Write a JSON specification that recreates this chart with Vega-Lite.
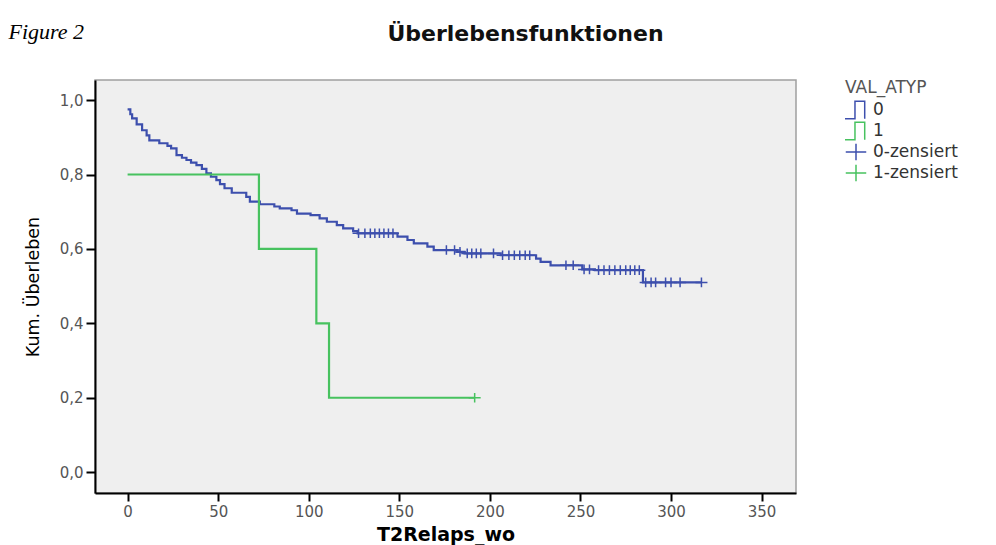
{
  "$schema": "https://vega.github.io/schema/vega-lite/v6.json",
  "autosize": "none",
  "width": 701,
  "height": 413,
  "padding": {"left": 95, "top": 80, "right": 200, "bottom": 52},
  "background": "white",
  "config": {
    "font": "DejaVu Sans",
    "view": {"fill": "#efefef", "stroke": "#a0a0a0", "strokeWidth": 1.5}
  },
  "datasets": {
    "curve": [
      {"lg": "0", "t": 0, "s": 0.975},
      {"lg": "0", "t": 1.5, "s": 0.962},
      {"lg": "0", "t": 2.5, "s": 0.951},
      {"lg": "0", "t": 5, "s": 0.935},
      {"lg": "0", "t": 8, "s": 0.919},
      {"lg": "0", "t": 10.5, "s": 0.905},
      {"lg": "0", "t": 12, "s": 0.892},
      {"lg": "0", "t": 17.5, "s": 0.884},
      {"lg": "0", "t": 22, "s": 0.877},
      {"lg": "0", "t": 24, "s": 0.87},
      {"lg": "0", "t": 27, "s": 0.852},
      {"lg": "0", "t": 30, "s": 0.845},
      {"lg": "0", "t": 32.5, "s": 0.839},
      {"lg": "0", "t": 35, "s": 0.832},
      {"lg": "0", "t": 38, "s": 0.825},
      {"lg": "0", "t": 41, "s": 0.815},
      {"lg": "0", "t": 43.5, "s": 0.803},
      {"lg": "0", "t": 46, "s": 0.794},
      {"lg": "0", "t": 49, "s": 0.785},
      {"lg": "0", "t": 51, "s": 0.774},
      {"lg": "0", "t": 53.5, "s": 0.763},
      {"lg": "0", "t": 57.5, "s": 0.751},
      {"lg": "0", "t": 65.5, "s": 0.74},
      {"lg": "0", "t": 67.5, "s": 0.727},
      {"lg": "0", "t": 73, "s": 0.72},
      {"lg": "0", "t": 81, "s": 0.714},
      {"lg": "0", "t": 84, "s": 0.709},
      {"lg": "0", "t": 90.5, "s": 0.704},
      {"lg": "0", "t": 93.5, "s": 0.695},
      {"lg": "0", "t": 101, "s": 0.691},
      {"lg": "0", "t": 106, "s": 0.682},
      {"lg": "0", "t": 110, "s": 0.673},
      {"lg": "0", "t": 115.5, "s": 0.664},
      {"lg": "0", "t": 119, "s": 0.655},
      {"lg": "0", "t": 124.5, "s": 0.648},
      {"lg": "0", "t": 127, "s": 0.642},
      {"lg": "0", "t": 149, "s": 0.633},
      {"lg": "0", "t": 154.5, "s": 0.624},
      {"lg": "0", "t": 158, "s": 0.615},
      {"lg": "0", "t": 165.5, "s": 0.606},
      {"lg": "0", "t": 169, "s": 0.597},
      {"lg": "0", "t": 182, "s": 0.592},
      {"lg": "0", "t": 186, "s": 0.588},
      {"lg": "0", "t": 206, "s": 0.583},
      {"lg": "0", "t": 225.5, "s": 0.574},
      {"lg": "0", "t": 228, "s": 0.565},
      {"lg": "0", "t": 233.5, "s": 0.556},
      {"lg": "0", "t": 251, "s": 0.545},
      {"lg": "0", "t": 258, "s": 0.543},
      {"lg": "0", "t": 284.5, "s": 0.51},
      {"lg": "0", "t": 316.8, "s": 0.51},
      {"lg": "1", "t": 0, "s": 0.8},
      {"lg": "1", "t": 72.5, "s": 0.6},
      {"lg": "1", "t": 104.2, "s": 0.4},
      {"lg": "1", "t": 111.2, "s": 0.2},
      {"lg": "1", "t": 191.6, "s": 0.2}
    ],
    "cens": [
      {"lg": "0-zensiert", "t": 127.5, "s": 0.642},
      {"lg": "0-zensiert", "t": 131, "s": 0.642},
      {"lg": "0-zensiert", "t": 134, "s": 0.642},
      {"lg": "0-zensiert", "t": 136.5, "s": 0.642},
      {"lg": "0-zensiert", "t": 139, "s": 0.642},
      {"lg": "0-zensiert", "t": 141.5, "s": 0.642},
      {"lg": "0-zensiert", "t": 144, "s": 0.642},
      {"lg": "0-zensiert", "t": 146.5, "s": 0.642},
      {"lg": "0-zensiert", "t": 176, "s": 0.597},
      {"lg": "0-zensiert", "t": 180.5, "s": 0.597},
      {"lg": "0-zensiert", "t": 183.5, "s": 0.592},
      {"lg": "0-zensiert", "t": 187.5, "s": 0.588},
      {"lg": "0-zensiert", "t": 190, "s": 0.588},
      {"lg": "0-zensiert", "t": 192.5, "s": 0.588},
      {"lg": "0-zensiert", "t": 195, "s": 0.588},
      {"lg": "0-zensiert", "t": 202, "s": 0.588},
      {"lg": "0-zensiert", "t": 207, "s": 0.583},
      {"lg": "0-zensiert", "t": 210.5, "s": 0.583},
      {"lg": "0-zensiert", "t": 213.5, "s": 0.583},
      {"lg": "0-zensiert", "t": 216.5, "s": 0.583},
      {"lg": "0-zensiert", "t": 219.5, "s": 0.583},
      {"lg": "0-zensiert", "t": 222, "s": 0.583},
      {"lg": "0-zensiert", "t": 242, "s": 0.556},
      {"lg": "0-zensiert", "t": 246, "s": 0.556},
      {"lg": "0-zensiert", "t": 252, "s": 0.545},
      {"lg": "0-zensiert", "t": 255, "s": 0.545},
      {"lg": "0-zensiert", "t": 260, "s": 0.543},
      {"lg": "0-zensiert", "t": 263, "s": 0.543},
      {"lg": "0-zensiert", "t": 266, "s": 0.543},
      {"lg": "0-zensiert", "t": 269, "s": 0.543},
      {"lg": "0-zensiert", "t": 272, "s": 0.543},
      {"lg": "0-zensiert", "t": 275, "s": 0.543},
      {"lg": "0-zensiert", "t": 277.5, "s": 0.543},
      {"lg": "0-zensiert", "t": 280, "s": 0.543},
      {"lg": "0-zensiert", "t": 282.5, "s": 0.543},
      {"lg": "0-zensiert", "t": 286, "s": 0.51},
      {"lg": "0-zensiert", "t": 289, "s": 0.51},
      {"lg": "0-zensiert", "t": 291.5, "s": 0.51},
      {"lg": "0-zensiert", "t": 297, "s": 0.51},
      {"lg": "0-zensiert", "t": 300, "s": 0.51},
      {"lg": "0-zensiert", "t": 305, "s": 0.51},
      {"lg": "0-zensiert", "t": 316.8, "s": 0.51},
      {"lg": "1-zensiert", "t": 191.6, "s": 0.2}
    ]
  },
  "layer": [
    {
      "data": {"name": "curve"},
      "mark": {"type": "line", "interpolate": "step-after", "strokeWidth": 2.2},
      "encoding": {
        "x": {
          "field": "t", "type": "quantitative",
          "scale": {"domain": [-18, 369], "nice": false, "zero": false},
          "axis": {
            "orient": "bottom", "values": [0, 50, 100, 150, 200, 250, 300, 350],
            "title": "T2Relaps_wo", "titleFontWeight": "bold", "titleFontSize": 19, "titleColor": "#000",
            "titlePadding": 6, "labelFontSize": 15, "labelColor": "#555", "labelPadding": 3,
            "tickSize": 8, "tickWidth": 2, "tickColor": "#000", "domainColor": "#000", "domainWidth": 2,
            "grid": false, "labelFlush": false, "labelOverlap": false
          }
        },
        "y": {
          "field": "s", "type": "quantitative",
          "scale": {"domain": [-0.056, 1.054], "nice": false, "zero": false},
          "axis": {
            "orient": "left", "values": [0, 0.2, 0.4, 0.6, 0.8, 1],
            "labelExpr": "replace(format(datum.value, '.1f'), '.', ',')",
            "title": "Kum. Überleben", "titleFontWeight": "normal", "titleFontSize": 17.5, "titleColor": "#000",
            "titlePadding": 17, "labelFontSize": 15, "labelColor": "#555", "labelPadding": 3,
            "tickSize": 9, "tickWidth": 2, "tickColor": "#000", "domainColor": "#000", "domainWidth": 2,
            "grid": false, "labelFlush": false, "labelOverlap": false
          }
        },
        "stroke": {
          "field": "lg", "type": "nominal",
          "scale": {
            "domain": ["0", "1", "0-zensiert", "1-zensiert"],
            "range": ["#3d4fad", "#47c25f", "#3d4fad", "#47c25f"]
          },
          "legend": {
            "orient": "none", "legendX": 750, "legendY": 0,
            "title": "VAL_ATYP", "titleFontSize": 17, "titleFontWeight": "normal", "titleColor": "#555",
            "labelFontSize": 17, "labelColor": "#333", "symbolSize": 420, "symbolStrokeWidth": 1.5,
            "rowPadding": 1, "titlePadding": 3, "labelOffset": 6, "symbolFillColor": "transparent",
            "clipHeight": 20,
            "encode": {"symbols": {"update": {"size": {"value": 420}, "strokeWidth": {"value": 1.5}}}}
          }
        }
      }
    },
    {
      "data": {"name": "cens"},
      "mark": {"type": "point", "filled": false, "size": 144, "strokeWidth": 1.5, "opacity": 1},
      "encoding": {
        "x": {
          "field": "t", "type": "quantitative",
          "axis": {
            "orient": "top", "title": "Überlebensfunktionen", "titleX": 430, "titleY": -40,
            "titleAlign": "center", "titleBaseline": "alphabetic", "titleAngle": 0,
            "titleFontSize": 22, "titleFontWeight": "bold", "titleColor": "#111",
            "labels": false, "ticks": false, "domain": false, "grid": false
          }
        },
        "y": {
          "field": "s", "type": "quantitative",
          "axis": {
            "orient": "right", "title": "Figure 2", "titleX": -788, "titleY": -42,
            "titleAngle": 0, "titleAlign": "left", "titleBaseline": "alphabetic",
            "titleFont": "Liberation Serif", "titleFontStyle": "italic", "titleFontWeight": "normal",
            "titleFontSize": 22, "titleColor": "#000",
            "labels": false, "ticks": false, "domain": false, "grid": false
          }
        },
        "stroke": {"field": "lg", "type": "nominal"},
        "shape": {
          "field": "lg", "type": "nominal",
          "scale": {
            "domain": ["0", "1", "0-zensiert", "1-zensiert"],
            "range": ["M-1.1,0.85H-0.1V-0.85H0.85V0.85", "M-1.1,0.85H-0.1V-0.85H0.85V0.85", "M-1,0H1M0,-0.8V0.8", "M-1,0H1M0,-0.8V0.8"]
          }
        }
      }
    }
  ]
}
